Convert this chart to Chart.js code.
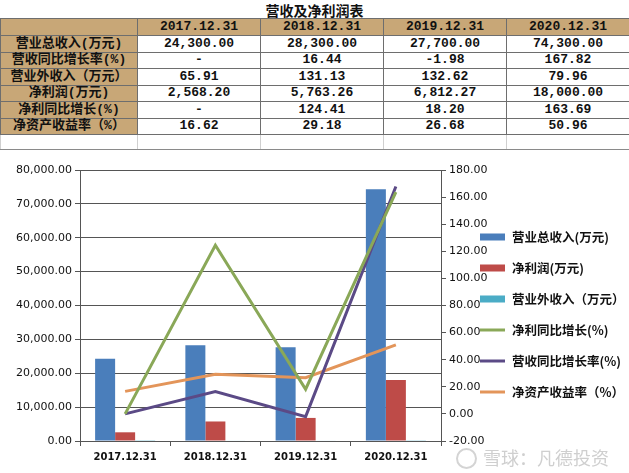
<!DOCTYPE html>
<html>
<head>
<meta charset="utf-8">
<script src="https://cdn.jsdelivr.net/npm/chart.js"></script>
<style>
  body { margin: 0; width: 629px; height: 473px; position: relative; overflow: hidden; background: #fff; }
  #title { position: absolute; left: 0; top: 0; width: 629px; height: 18px; line-height: 18px; text-align: center;
           font: bold 14px "Noto Sans CJK SC"; color: #111; }
  #tbl { position: absolute; left: 0; top: 18px; width: 629px; border-collapse: collapse; table-layout: fixed; }
  #tbl td { padding: 0; border: 1px solid #6e6e6e; text-align: center; font-weight: bold; font-size: 13px;
            font-family: "Liberation Mono", "Noto Sans CJK SC", monospace; color: #111; line-height: 14px; }
  #tbl tr { height: 16.5px; }
  #tbl tr.head { height: 17px; }
  #tbl td.lab, #tbl tr.head td { background: #c8a777; }
  #tbl tr.empty { height: 15px; }
  #tbl tr.empty td { border-color: #d0d0d0; border-top-color: #6e6e6e; border-bottom: none; }
  #chartBox { position: absolute; left: 0; top: 149px; width: 629px; height: 323px; border-top: 1px solid #8a8a8a; }
  #mark { position: absolute; left: 456px; top: 444px; font: 18px "Noto Sans CJK SC"; color: #cfcfcf; white-space: nowrap; }
  #mark span { display: inline-block; width: 17px; height: 17px; border: 2px solid #d4d4d4; border-radius: 50%;
               vertical-align: -4px; margin-right: 6px; }
</style>
</head>
<body>
<div id="title">营收及净利润表</div>
<table id="tbl"></table>
<div id="chartBox"><canvas id="canvas" width="629" height="323"></canvas></div>
<div id="mark"><span></span>雪球：凡德投资</div>
<script>
// duomenys
var years = ['2017.12.31', '2018.12.31', '2019.12.31', '2020.12.31'];
var revenue = [24300, 28300, 27700, 74300];
var revenueGrowth = [null, 16.44, -1.98, 167.82];
var otherIncome = [65.91, 131.13, 132.62, 79.96];
var netProfit = [2568.20, 5763.26, 6812.27, 18000];
var profitGrowth = [null, 124.41, 18.20, 163.69];
var roe = [16.62, 29.18, 26.68, 50.96];

var rowLabels = ['营业总收入(万元)', '营收同比增长率(%)', '营业外收入（万元）', '净利润(万元)', '净利同比增长(%)', '净资产收益率（%）'];
var rowValues = [revenue, revenueGrowth, otherIncome, netProfit, profitGrowth, roe];

function fmt(v) {
    if (v === null) return '-';
    return v.toLocaleString('en-US', { minimumFractionDigits: 2, maximumFractionDigits: 2 });
}

// lentele
var html = '<colgroup><col style="width:137px">';
years.forEach(function () { html += '<col style="width:123px">'; });
html += '</colgroup><tr class="head"><td></td>';
years.forEach(function (y) { html += '<td>' + y + '</td>'; });
html += '</tr>';
rowLabels.forEach(function (label, i) {
    html += '<tr><td class="lab">' + label + '</td>';
    rowValues[i].forEach(function (v) { html += '<td>' + fmt(v) + '</td>'; });
    html += '</tr>';
});
html += '<tr class="empty"><td></td><td></td><td></td><td></td><td></td></tr>';
document.getElementById('tbl').innerHTML = html;

// "-" excel'yje piesiamas kaip 0
function asZero(arr) { return arr.map(function (v) { return v === null ? 0 : v; }); }

// legenda desineje, kaip excel'yje
var sideLegend = {
    id: 'sideLegend',
    afterDraw: function (chart) {
        var c = chart.ctx;
        c.save();
        c.font = 'bold 12.5px "Noto Sans CJK SC"';
        c.textBaseline = 'middle';
        chart.data.datasets.forEach(function (ds, i) {
            var y = 87 + i * 31;
            if (ds.type === 'bar') {
                c.fillStyle = ds.backgroundColor;
                c.fillRect(480, y - 3.5, 25, 7);
            } else {
                c.strokeStyle = ds.borderColor;
                c.lineWidth = 3;
                c.beginPath();
                c.moveTo(480, y);
                c.lineTo(505, y);
                c.stroke();
            }
            c.fillStyle = '#111';
            c.fillText(ds.label, 512, y);
        });
        c.restore();
    }
};

var tickFont = { family: 'DejaVu Sans', size: 11 };

var ctx = document.getElementById('canvas');
var myChart = new Chart(ctx, {
    data: {
        labels: years,
        datasets: [
            { type: 'bar', label: '营业总收入(万元)', data: revenue, backgroundColor: '#4a7ebb', yAxisID: 'y', order: 1,
              categoryPercentage: 0.665, barPercentage: 1 },
            { type: 'bar', label: '净利润(万元)', data: netProfit, backgroundColor: '#be4b48', yAxisID: 'y', order: 1,
              categoryPercentage: 0.665, barPercentage: 1 },
            { type: 'bar', label: '营业外收入（万元）', data: otherIncome, backgroundColor: '#4bacc6', yAxisID: 'y', order: 1,
              categoryPercentage: 0.665, barPercentage: 1 },
            { type: 'line', label: '净利同比增长(%)', data: asZero(profitGrowth), borderColor: '#8aa858',
              borderWidth: 3, pointRadius: 0, yAxisID: 'y1', order: 0 },
            { type: 'line', label: '营收同比增长率(%)', data: asZero(revenueGrowth), borderColor: '#5b4a86',
              borderWidth: 3, pointRadius: 0, yAxisID: 'y1', order: 0 },
            { type: 'line', label: '净资产收益率（%）', data: roe, borderColor: '#e3955a',
              borderWidth: 3, pointRadius: 0, yAxisID: 'y1', order: 0 }
        ]
    },
    options: {
        responsive: false,
        animation: false,
        layout: { padding: { top: 20, left: 0, right: 0, bottom: 0 } },
        plugins: {
            tooltip: { enabled: false },
            legend: { display: false }
        },
        scales: {
            x: {
                afterFit: function (scale) { scale.height = 32; },
                grid: { offset: true, drawOnChartArea: false, tickLength: 5, color: '#555' },
                border: { color: '#555' },
                ticks: { padding: 5, color: '#111', font: { family: 'DejaVu Sans', size: 10, weight: 'bold' } }
            },
            y: {
                position: 'left',
                min: 0,
                max: 80000,
                afterFit: function (scale) { scale.width = 80; },
                grid: { color: '#555', tickLength: 5 },
                border: { color: '#555' },
                ticks: {
                    stepSize: 10000, padding: 3, color: '#111', font: tickFont,
                    callback: function (v) { return fmt(v); }
                }
            },
            y1: {
                position: 'right',
                min: -20,
                max: 180,
                afterFit: function (scale) { scale.width = 188; },
                grid: { drawOnChartArea: false, tickLength: 5, color: '#555' },
                border: { color: '#555' },
                ticks: {
                    stepSize: 20, padding: 3, color: '#111', font: tickFont,
                    callback: function (v) { return v.toFixed(2); }
                }
            }
        }
    },
    plugins: [sideLegend]
});
</script>
</body>
</html>
